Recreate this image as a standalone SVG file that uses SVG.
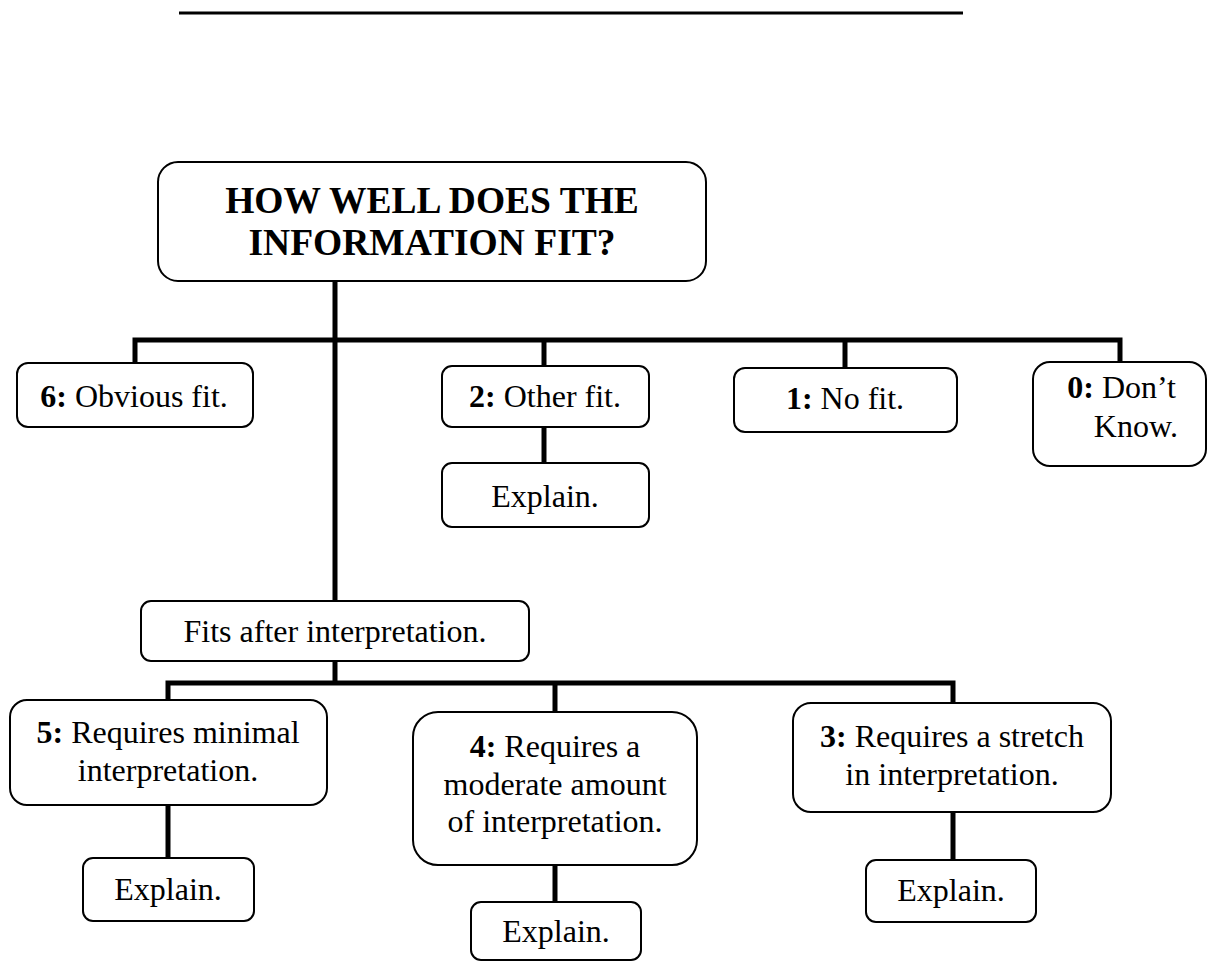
<svg xmlns="http://www.w3.org/2000/svg" width="1209" height="962" viewBox="0 0 1209 962">
<style>
.box{fill:#fff;stroke:#000;stroke-width:2}
.t{font-family:"Liberation Serif","Times New Roman",serif;font-size:32px;fill:#000;text-anchor:middle}
.title{font-family:"Liberation Serif","Times New Roman",serif;font-size:37.5px;font-weight:bold;fill:#000;text-anchor:middle}
.b{font-weight:bold}
.conn{fill:none;stroke:#000;stroke-width:5;stroke-linejoin:miter}
</style>
<rect width="1209" height="962" fill="#fff"/>
<line x1="179" y1="13" x2="963" y2="13" stroke="#000" stroke-width="3"/>
<g id="connectors">
<path class="conn" d="M335,281 V601"/>
<path class="conn" d="M135,364 V340 H1120 V363"/>
<path class="conn" d="M544,340 V367"/>
<path class="conn" d="M845,340 V369"/>
<path class="conn" d="M544,427 V464"/>
<path class="conn" d="M335,661 V683"/>
<path class="conn" d="M168,701 V683 H953 V704"/>
<path class="conn" d="M555,683 V713"/>
<path class="conn" d="M168,805 V859"/>
<path class="conn" d="M555,865 V903"/>
<path class="conn" d="M953,812 V861"/>
</g>
<g id="root">
<rect class="box" x="158" y="162" width="548" height="119" rx="20"/>
<text class="title" x="432" y="213">HOW WELL DOES THE</text>
<text class="title" x="432" y="255">INFORMATION FIT?</text>
</g>
<g id="n6">
<rect class="box" x="17" y="363" width="236" height="64" rx="11"/>
<text class="t" x="134" y="407"><tspan class="b">6:</tspan> Obvious fit.</text>
</g>
<g id="n2">
<rect class="box" x="442" y="366" width="207" height="61" rx="10"/>
<text class="t" x="545" y="407"><tspan class="b">2:</tspan> Other fit.</text>
</g>
<g id="n2e">
<rect class="box" x="442" y="463" width="207" height="64" rx="10"/>
<text class="t" x="545" y="507">Explain.</text>
</g>
<g id="n1">
<rect class="box" x="734" y="368" width="223" height="64" rx="11"/>
<text class="t" x="845" y="409"><tspan class="b">1:</tspan> No fit.</text>
</g>
<g id="n0">
<rect class="box" x="1033" y="362" width="173" height="104" rx="17"/>
<text class="t" x="1176" y="398" style="text-anchor:end"><tspan class="b">0:</tspan> Don’t</text>
<text class="t" x="1178" y="437" style="text-anchor:end">Know.</text>
</g>
<g id="fits">
<rect class="box" x="141" y="601" width="388" height="60" rx="10"/>
<text class="t" x="335" y="642">Fits after interpretation.</text>
</g>
<g id="n5">
<rect class="box" x="10" y="700" width="317" height="105" rx="17"/>
<text class="t" x="168" y="743"><tspan class="b">5:</tspan> Requires minimal</text>
<text class="t" x="168" y="781">interpretation.</text>
</g>
<g id="n5e">
<rect class="box" x="83" y="858" width="171" height="63" rx="10"/>
<text class="t" x="168" y="900">Explain.</text>
</g>
<g id="n4">
<rect class="box" x="413" y="712" width="284" height="153" rx="25"/>
<text class="t" x="555" y="757"><tspan class="b">4:</tspan> Requires a</text>
<text class="t" x="555" y="795">moderate amount</text>
<text class="t" x="555" y="832">of interpretation.</text>
</g>
<g id="n4e">
<rect class="box" x="471" y="902" width="170" height="58" rx="10"/>
<text class="t" x="556" y="942">Explain.</text>
</g>
<g id="n3">
<rect class="box" x="793" y="703" width="318" height="109" rx="18"/>
<text class="t" x="952" y="747"><tspan class="b">3:</tspan> Requires a stretch</text>
<text class="t" x="952" y="785">in interpretation.</text>
</g>
<g id="n3e">
<rect class="box" x="866" y="860" width="170" height="62" rx="10"/>
<text class="t" x="951" y="901">Explain.</text>
</g>
</svg>
